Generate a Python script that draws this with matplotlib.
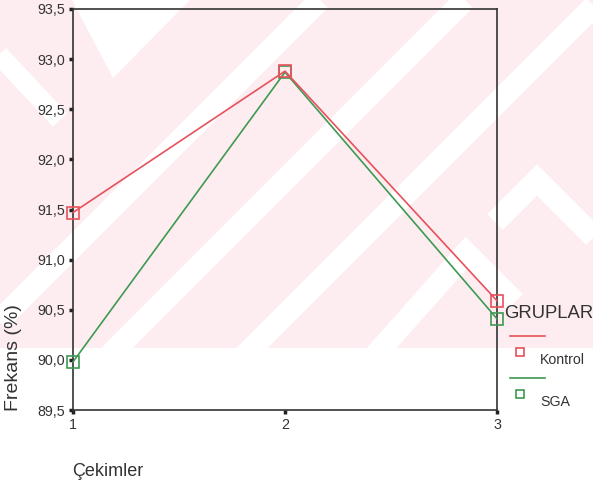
import numpy as np
import matplotlib
matplotlib.use("Agg")
import matplotlib.pyplot as plt
from matplotlib.patches import Polygon
from matplotlib.lines import Line2D

plt.rcParams['font.family'] = ['Liberation Sans', 'DejaVu Sans']

# cekim numaralari ve grup ortalamalari (%)
cekimler = [1, 2, 3]
kontrol = [91.47, 92.88, 90.59]
sga = [89.98, 92.87, 90.41]
gruplar = ['Kontrol', 'SGA']

y_ticks = [89.5, 90.0, 90.5, 91.0, 91.5, 92.0, 92.5, 93.0, 93.5]
y_tick_labels = ['89,5', '90,0', '90,5', '91,0', '91,5', '92,0', '92,5', '93,0', '93,5']

RED = '#e8515b'
GREEN = '#3d9a52'
PINK = '#fdedf0'

W, H = 593, 483
fig = plt.figure(figsize=(W / 100, H / 100), dpi=100)


def px(x, y):
    # pixel (top-left origin) -> figure fraction
    return (x / W, 1 - y / H)


# soluk pembe filigran (ust bolum)
bg = Polygon([px(0, 0), px(W, 0), px(W, 348), px(0, 348)], closed=True,
             transform=fig.transFigure, facecolor=PINK, edgecolor='none', zorder=0)
fig.add_artist(bg)
clip = Polygon([px(0, 0), px(W, 0), px(W, 348), px(0, 348)], closed=True,
               transform=fig.transFigure)


def stripe(pts, lw=16):
    xs = [p[0] / W for p in pts]
    ys = [1 - p[1] / H for p in pts]
    ln = Line2D(xs, ys, color='white', lw=lw, solid_capstyle='butt',
                solid_joinstyle='miter', transform=fig.transFigure, zorder=0)
    ln.set_clip_path(clip)
    fig.add_artist(ln)


stripe([(-10, 330), (320, 0)])
stripe([(100, 365), (465, 0)])
stripe([(235, 365), (600, 0)])
stripe([(-10, 45), (60, 120)], lw=14)
stripe([(371, 360), (466, 253), (515, 302)])
stripe([(495, 222), (537, 180), (600, 243)])
tri = Polygon([px(72, 0), px(190, 0), px(113, 78)], closed=True, transform=fig.transFigure,
              facecolor='white', edgecolor='none', zorder=0)
fig.add_artist(tri)

ax = fig.add_axes([73 / W, 1 - 410 / H, (497 - 73) / W, (410 - 9) / H])
ax.patch.set_alpha(0)

ax.plot(cekimler, sga, color=GREEN, lw=1.2, marker='s', ms=8,
        mfc='none', mec=GREEN, mew=1.2, clip_on=False, zorder=3)
ax.plot(cekimler, kontrol, color=RED, lw=1.2, marker='s', ms=8,
        mfc='none', mec=RED, mew=1.2, clip_on=False, zorder=4)

ax.set_xlim(1, 3)
ax.set_ylim(89.5, 93.5)
ax.set_xticks(cekimler)
ax.set_xticklabels([str(c) for c in cekimler])
ax.set_yticks(y_ticks)
ax.set_yticklabels(y_tick_labels)
ax.tick_params(direction='out', length=3, width=2.5, color='#222222',
               labelsize=10.3, labelcolor='#333333', pad=3)
for s in ax.spines.values():
    s.set_color('#333333')
    s.set_linewidth(1.2)

fig.text(*px(14, 358), 'Frekans (%)', rotation=90, ha='center', va='center',
         fontsize=14, color='#333333')
fig.text(*px(72, 471), 'Çekimler', ha='left', va='center',
         fontsize=13, color='#333333')

# gruplar aciklamasi
fig.text(*px(504, 314), 'GRUPLAR', ha='left', va='center', fontsize=13.3, color='#333333')
for i, (g, c) in enumerate(zip(gruplar, [RED, GREEN])):
    y0 = 336 + i * 42
    fig.add_artist(Line2D([510 / W, 545 / W], [1 - y0 / H, 1 - y0 / H], color=c, lw=1.2,
                          transform=fig.transFigure))
    fig.add_artist(Line2D([520 / W], [1 - (y0 + 16) / H], marker='s', ms=6, mfc='none',
                          mec=c, mew=1.2, transform=fig.transFigure))
    fig.text(*px(540, y0 + 24), g, ha='left', va='center', fontsize=10.2, color='#333333')

fig.savefig('out.png', dpi=100)
